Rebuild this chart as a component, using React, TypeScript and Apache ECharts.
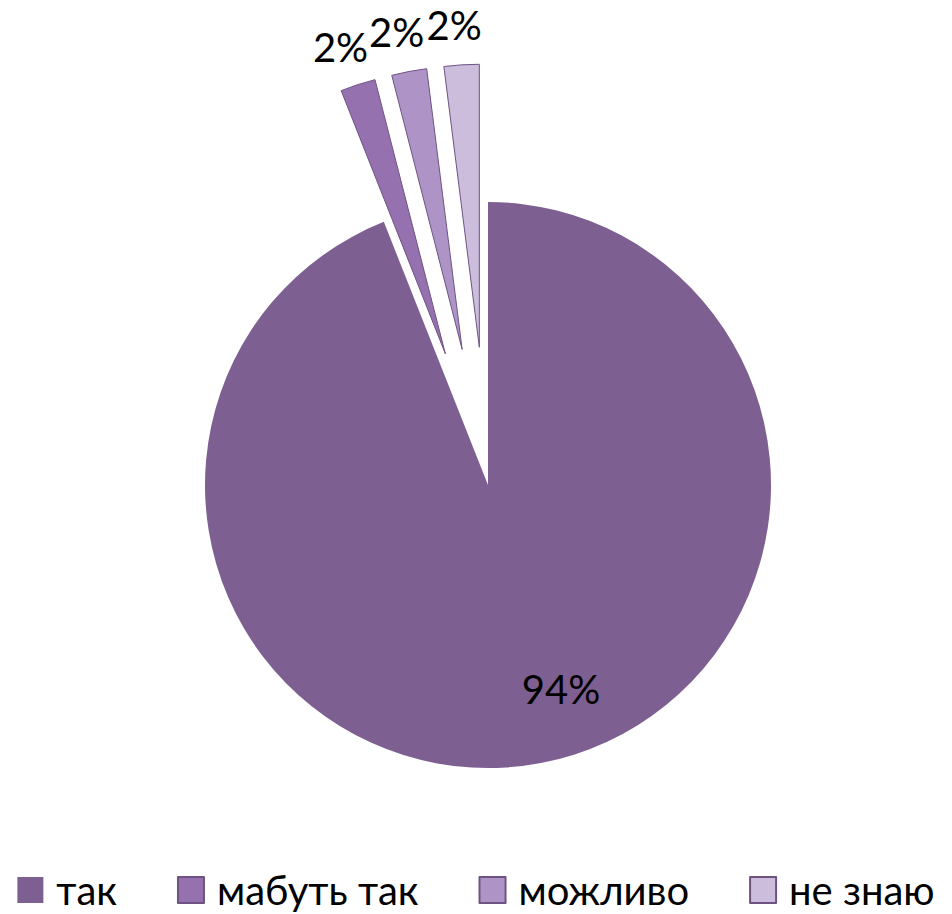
import React, { useEffect, useRef } from 'react';
import * as echarts from 'echarts';

const categories = ['так', 'мабуть так', 'можливо', 'не знаю'];
const values = [94, 2, 2, 2];
const exploded = [false, true, true, true];
const colors = ['#7E5F91', '#9571B0', '#AE93C7', '#CBBDDB'];

export default function App() {
  const ref = useRef<HTMLDivElement>(null);
  useEffect(() => {
    const chart = echarts.init(ref.current!, null, { renderer: 'svg' });
    chart.setOption({
      animation: false,
      color: colors,
      textStyle: { fontFamily: 'Lato' },
      legend: {
        left: 'center',
        top: 868,
        icon: 'rect',
        itemWidth: 26,
        itemHeight: 26,
        itemGap: 60,
        padding: 0,
        selectedMode: false,
        textStyle: {
          fontSize: 40,
          lineHeight: 44,
          color: '#000',
          fontFamily: 'Lato',
          padding: [0, 0, 0, 8],
        },
        data: categories,
      },
      series: [
        {
          type: 'pie',
          center: [488, 485],
          radius: 283,
          startAngle: 90,
          clockwise: true,
          selectedMode: 'multiple',
          selectedOffset: 138,
          avoidLabelOverlap: false,
          emphasis: { disabled: true },
          label: {
            position: 'outside',
            formatter: (p: any) => Math.round(p.percent) + '%',
            fontSize: 40,
            color: '#000',
            fontFamily: 'Lato',
          },
          labelLine: { show: false, length: 40, length2: 0 },
          labelLayout: (p: any) => (p.dataIndex === 0 ? { dx: 46, dy: 62 } : { align: 'center' }),
          data: categories.map((name, i) => ({
            name,
            value: values[i],
            selected: exploded[i],
            label: i === 0 ? { position: 'inside' } : undefined,
            itemStyle: exploded[i]
              ? { borderColor: '#6E5382', borderWidth: 1 }
              : { borderWidth: 0 },
          })),
        },
      ],
    });
    return () => chart.dispose();
  }, []);
  return <div ref={ref} style={{ position: 'absolute', left: 0, top: 0, width: 952, height: 914 }} />;
}
